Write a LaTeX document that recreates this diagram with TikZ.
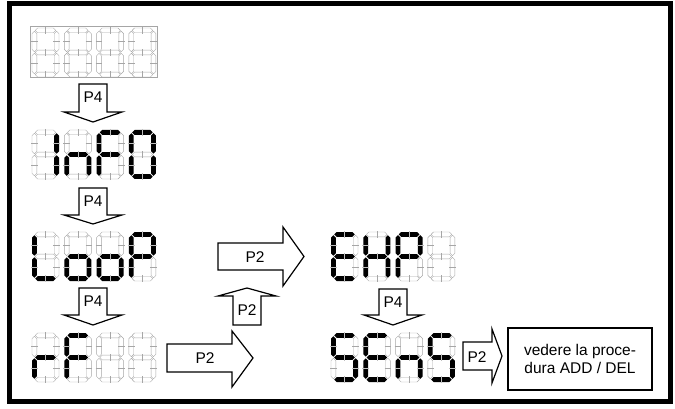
\documentclass[tikz,border=0pt]{standalone}
\usepackage{fontspec}
\setmainfont{Liberation Sans}
\def\sh{2.4}
\tikzset{
  seg1/.style={fill=black},
  seg0/.style={draw=black!35, line width=0.4pt},
  tick1/.style={draw=black!25, line width=0.5pt},
  tick0/.style={draw=black!35, line width=0.4pt},
  blockarrow/.style={draw=black, line width=1.2pt, fill=white, line join=miter},
  lbl/.style={font=\fontsize{15.5}{18}\selectfont, inner sep=0pt},
  procbox/.style={draw=black, line width=1.3pt, minimum width=144pt, minimum height=62pt, align=center, font=\fontsize{15.5}{18.5}\selectfont, inner sep=0pt},
  frame/.style={draw=black, line width=5pt},
  dispframe/.style={draw=black!35, line width=0.5pt}
}
\newcommand\segH[4]{%
  \path[seg#4] ({#1},{#3}) -- ({#1+\sh},{#3-\sh}) -- ({#2-\sh},{#3-\sh}) -- ({#2},{#3}) -- ({#2-\sh},{#3+\sh}) -- ({#1+\sh},{#3+\sh}) -- cycle;
  \path[tick#4] ({(#1+#2)/2},{#3-\sh-1}) -- ({(#1+#2)/2},{#3+\sh+1});
}
\newcommand\segV[4]{%
  \path[seg#4] ({#1},{#2}) -- ({#1+\sh},{#2+\sh}) -- ({#1+\sh},{#3-\sh}) -- ({#1},{#3}) -- ({#1-\sh},{#3-\sh}) -- ({#1-\sh},{#2+\sh}) -- cycle;
  \path[tick#4] ({#1-\sh-1},{(#2+#3)/2}) -- ({#1+\sh+1},{(#2+#3)/2});
}
% X Y a b c d e f g
\newcommand\digit[9]{%
  \segH{#1+3.2}{#1+23.8}{#2+2.4}{#3}%
  \segV{#1+24.6}{#2+3.2}{#2+23.7}{#4}%
  \segV{#1+24.6}{#2+25.3}{#2+45.8}{#5}%
  \segH{#1+3.2}{#1+23.8}{#2+46.6}{#6}%
  \segV{#1+2.4}{#2+25.3}{#2+45.8}{#7}%
  \segV{#1+2.4}{#2+3.2}{#2+23.7}{#8}%
  \segH{#1+3.2}{#1+23.8}{#2+24.5}{#9}%
}
\newcommand\downblock[4]{%
  \draw[blockarrow] ({#1-14},{#2}) -- ({#1+14},{#2}) -- ({#1+14},{#3}) -- ({#1+29},{#3}) -- ({#1},{#4}) -- ({#1-29},{#3}) -- ({#1-14},{#3}) -- cycle;
}
\begin{document}
\begin{tikzpicture}[x=1pt,y=-1pt]
\useasboundingbox (0,0) rectangle (675,409);
\draw[frame] (9,4) rectangle (670,401);

% row 1: all segments off
\draw[dispframe] (30.5,26.5) rectangle (157,77.5);
\coordinate (d1) at (32,28);
\digit{32}{28}{0}{0}{0}{0}{0}{0}{0}
\digit{64.3}{28}{0}{0}{0}{0}{0}{0}{0}
\digit{96.6}{28}{0}{0}{0}{0}{0}{0}{0}
\digit{128.9}{28}{0}{0}{0}{0}{0}{0}{0}

% row 2: InFO
\coordinate (d2) at (32,130);
\digit{32}{130}{0}{1}{1}{0}{0}{0}{0}
\digit{64.3}{130}{0}{0}{1}{0}{1}{0}{1}
\digit{96.6}{130}{1}{0}{0}{0}{1}{1}{1}
\digit{128.9}{130}{1}{1}{1}{1}{1}{1}{0}

% row 3: LooP
\coordinate (d3) at (32,232);
\digit{32}{232}{0}{0}{0}{1}{1}{1}{0}
\digit{64.3}{232}{0}{0}{1}{1}{1}{0}{1}
\digit{96.6}{232}{0}{0}{1}{1}{1}{0}{1}
\digit{128.9}{232}{1}{1}{0}{0}{1}{1}{1}

% row 4: rF
\coordinate (d4) at (32,333);
\digit{32}{333}{0}{0}{0}{0}{1}{0}{1}
\digit{64.3}{333}{1}{0}{0}{0}{1}{1}{1}
\digit{96.6}{333}{0}{0}{0}{0}{0}{0}{0}
\digit{128.9}{333}{0}{0}{0}{0}{0}{0}{0}

% EHP
\coordinate (d5) at (331,232);
\digit{331}{232}{1}{0}{0}{1}{1}{1}{1}
\digit{363.3}{232}{0}{1}{1}{0}{1}{1}{1}
\digit{395.6}{232}{1}{1}{0}{0}{1}{1}{1}
\digit{427.9}{232}{0}{0}{0}{0}{0}{0}{0}

% SEnS
\coordinate (d6) at (331,333);
\digit{331}{333}{1}{0}{1}{1}{0}{1}{1}
\digit{363.3}{333}{1}{0}{0}{1}{1}{1}{1}
\digit{395.6}{333}{0}{0}{1}{0}{1}{0}{1}
\digit{427.9}{333}{1}{0}{1}{1}{0}{1}{1}

% P4 arrows
\downblock{93}{84}{112}{122}
\node[lbl] (p4a) at (93,97) {P4};
\downblock{93}{188}{215}{224}
\node[lbl] (p4b) at (93,201) {P4};
\downblock{93}{288}{315}{325}
\node[lbl] (p4c) at (93,301) {P4};
\downblock{393}{289}{315}{325}
\node[lbl] (p4d) at (393,302) {P4};

% P2 arrows
\draw[blockarrow] (167,344) -- (232,344) -- (232,331) -- (253,358) -- (232,387) -- (232,372) -- (167,372) -- cycle;
\node[lbl] (p2a) at (205,358) {P2};
\draw[blockarrow] (233,325) -- (233,296) -- (218,296) -- (247,288) -- (276,296) -- (261,296) -- (261,325) -- cycle;
\node[lbl] (p2b) at (247,310) {P2};
\draw[blockarrow] (218,243) -- (283,243) -- (283,227) -- (304,256.5) -- (283,286) -- (283,270) -- (218,270) -- cycle;
\node[lbl] (p2c) at (255,257) {P2};
\draw[blockarrow] (463,342) -- (492,342) -- (492,329) -- (502,356) -- (492,383) -- (492,370) -- (463,370) -- cycle;
\node[lbl] (p2d) at (477,357) {P2};

\node[procbox] (proc) at (580,359) {vedere la proce-\\dura ADD / DEL};
\end{tikzpicture}
\end{document}
